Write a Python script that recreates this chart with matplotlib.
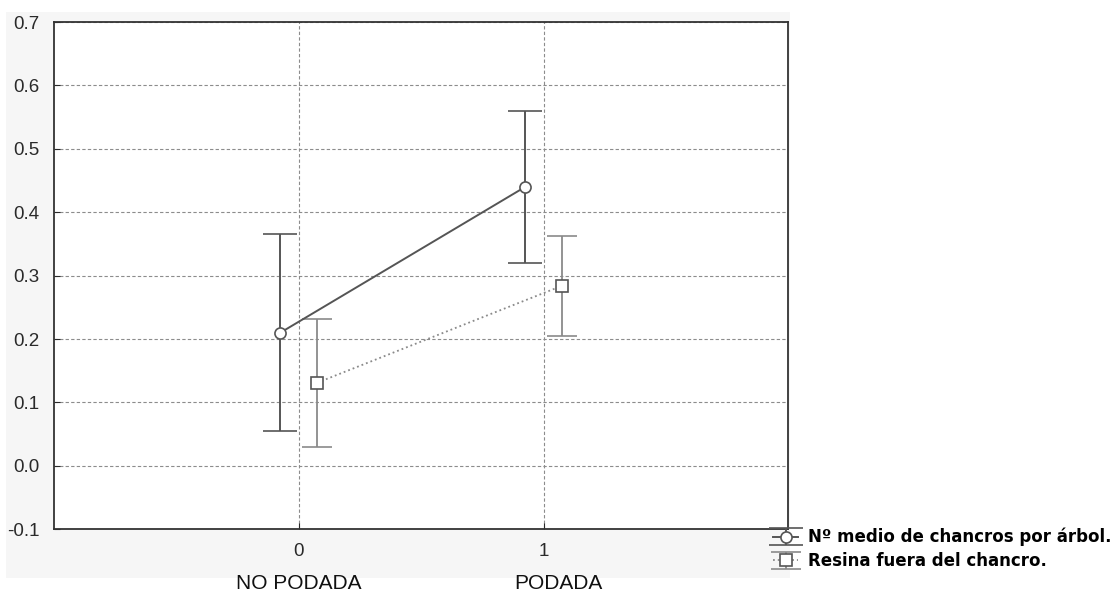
import matplotlib.pyplot as plt
from matplotlib.patches import Rectangle

plt.rcParams["font.family"] = ["Liberation Sans", "DejaVu Sans"]

# data
groups = ["NO PODADA", "PODADA"]
group_pos = [0, 1]
chancros_mean = [0.21, 0.44]
chancros_err = [0.155, 0.12]
resina_mean = [0.131, 0.284]
resina_err = [0.101, 0.079]
series_labels = ["N\u00ba medio de chancros por \u00e1rbol.", "Resina fuera del chancro."]
yticks = [-0.1, 0.0, 0.1, 0.2, 0.3, 0.4, 0.5, 0.6, 0.7]
offset = 0.075

fig = plt.figure(figsize=(11.2, 5.96), dpi=100)
fig.patches.append(Rectangle((0.005, 0.03), 0.70, 0.95, transform=fig.transFigure,
                             facecolor="#f6f6f6", edgecolor="none", zorder=-10))
ax = fig.add_axes([0.048, 0.112, 0.656, 0.851])
ax.set_facecolor("white")

x1 = [p - offset for p in group_pos]
x2 = [p + offset for p in group_pos]
e1 = ax.errorbar(x1, chancros_mean, yerr=chancros_err, color="#555555", lw=1.4,
                 marker="o", ms=8, mfc="white", mec="#555555", mew=1.2,
                 capsize=12, capthick=1.4, label=series_labels[0], zorder=3)
e2 = ax.errorbar(x2, resina_mean, yerr=resina_err, color="#8a8a8a", lw=1.3, ls=":",
                 marker="s", ms=8, mfc="white", mec="#555555", mew=1.2,
                 capsize=11, capthick=1.4, label=series_labels[1], zorder=3)
e2[2][0].set_linestyle("-")

ax.set_xlim(-1, 2)
ax.set_ylim(-0.1, 0.7)
ax.set_xticks(group_pos)
ax.set_xticklabels([str(p) for p in group_pos])
ax.set_yticks(yticks)
ax.set_yticklabels([f"{t:.1f}" for t in yticks])
ax.tick_params(direction="in", length=4, labelsize=13.5, colors="#2a2a2a", pad=10)
ax.grid(True, ls=(0, (3, 2)), color="#8c8c8c", lw=0.8)
for s in ax.spines.values():
    s.set_color("#333333")
    s.set_linewidth(1.3)

for p, g in zip([0, 1.06], groups):
    ax.text(p, -0.185, g, ha="center", va="center", fontsize=15, color="#111111")

fig.legend(handles=[e1, e2], labels=series_labels, loc="lower left",
           bbox_to_anchor=(0.677, 0.018), frameon=False,
           prop={"family": "DejaVu Sans", "weight": "bold", "size": 12},
           handlelength=1.5, handletextpad=0.6, labelspacing=0.35)

fig.savefig("out.png", dpi=100, facecolor="white")
